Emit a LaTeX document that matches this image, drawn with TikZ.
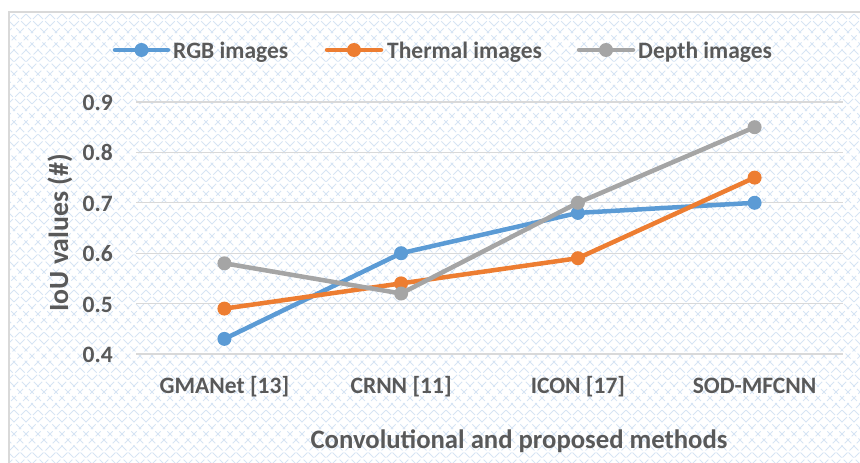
\documentclass[tikz,border=0pt]{standalone}
\usepackage{fontspec}
\setmainfont{Carlito}
\definecolor{cblue}{HTML}{5B9BD5}
\definecolor{corange}{HTML}{ED7D31}
\definecolor{cgray}{HTML}{A5A5A5}
\definecolor{ctext}{HTML}{595959}
\definecolor{cgrid}{HTML}{D9D9D9}
\definecolor{cpat}{HTML}{D6E4F4}
\tikzset{
  pat/.style={draw=cpat, line width=1pt, dash pattern=on 7pt off 3pt},
  gridline/.style={draw=cgrid, line width=1.3pt},
  ser/.style={draw=#1, line width=4.5pt, line cap=round, line join=round},
  mk/.style={circle, fill=#1, inner sep=0pt, minimum size=14pt},
  ticklab/.style={font=\fontsize{23.5}{27}\selectfont\bfseries, text=ctext, inner sep=0pt},
  titlelab/.style={font=\fontsize{26.7}{31}\selectfont\bfseries, text=ctext, inner sep=0pt},
}
\begin{document}
\begin{tikzpicture}[x=1pt,y=-1pt]
\useasboundingbox (0,0) rectangle (860,463);
\clip (0,0) rectangle (860,463);
% background pattern
\begin{scope}
\clip (9,12) rectangle (870,475);
\foreach \i in {-45,...,120} {
  \draw[pat] (\i*12,0) -- ++(500,500);
  \draw[pat] (\i*12+4,0) -- ++(-500,500);
}
\end{scope}
% frame
\draw[draw=cgrid, line width=1.5pt] (9,480) -- (9,12) -- (870,12);
% gridlines and tick labels
\foreach \k in {4,...,9} {
  \coordinate (gl\k) at (136,{354-(\k-4)*50.4});
  \coordinate (gr\k) at (843,{354-(\k-4)*50.4});
  \draw[gridline] (gl\k) -- (gr\k);
  \node[ticklab, anchor=base east] (tk\k) at (113,{354-(\k-4)*50.4+8.5}) {0.\k};
}
% category labels
\node[ticklab, anchor=base] (c1) at (224.4,393) {GMANet [13]};
\node[ticklab, anchor=base] (c2) at (401.1,393) {CRNN [11]};
\node[ticklab, anchor=base] (c3) at (577.9,393) {ICON [17]};
\node[ticklab, anchor=base] (c4) at (754.6,393) {SOD-MFCNN};
% axis titles
\node[titlelab, anchor=base] (xt) at (519,448) {Convolutional and proposed methods};
\node[titlelab, font=\fontsize{27.8}{32}\selectfont\bfseries, anchor=base, rotate=90] (yt) at (68,233) {IoU values (\#)};
% data coordinates
\coordinate (r1) at (224.4,338.9);
\coordinate (r2) at (401.1,253.2);
\coordinate (r3) at (577.9,212.9);
\coordinate (r4) at (754.6,202.8);
\coordinate (t1) at (224.4,308.6);
\coordinate (t2) at (401.1,283.4);
\coordinate (t3) at (577.9,258.2);
\coordinate (t4) at (754.6,177.6);
\coordinate (d1) at (224.4,263.3);
\coordinate (d2) at (401.1,293.5);
\coordinate (d3) at (577.9,202.8);
\coordinate (d4) at (754.6,127.2);
% series
\draw[ser=cblue] (r1) -- (r2) -- (r3) -- (r4);
\foreach \p in {r1,r2,r3,r4} \node[mk=cblue] (m\p) at (\p) {};
\draw[ser=corange] (t1) -- (t2) -- (t3) -- (t4);
\foreach \p in {t1,t2,t3,t4} \node[mk=corange] (m\p) at (\p) {};
\draw[ser=cgray] (d1) -- (d2) -- (d3) -- (d4);
\foreach \p in {d1,d2,d3,d4} \node[mk=cgray] (m\p) at (\p) {};
% legend
\coordinate (la1) at (115,50); \coordinate (lb1) at (168,50);
\draw[ser=cblue] (la1) -- (lb1);
\node[mk=cblue] (lm1) at (141.5,50) {};
\node[ticklab, anchor=base west] (lt1) at (173,58) {RGB images};
\coordinate (la2) at (327,50); \coordinate (lb2) at (381,50);
\draw[ser=corange] (la2) -- (lb2);
\node[mk=corange] (lm2) at (354,50) {};
\node[ticklab, anchor=base west] (lt2) at (387,58) {Thermal images};
\coordinate (la3) at (579,50); \coordinate (lb3) at (633,50);
\draw[ser=cgray] (la3) -- (lb3);
\node[mk=cgray] (lm3) at (606,50) {};
\node[ticklab, anchor=base west] (lt3) at (638,58) {Depth images};
\end{tikzpicture}
\end{document}
